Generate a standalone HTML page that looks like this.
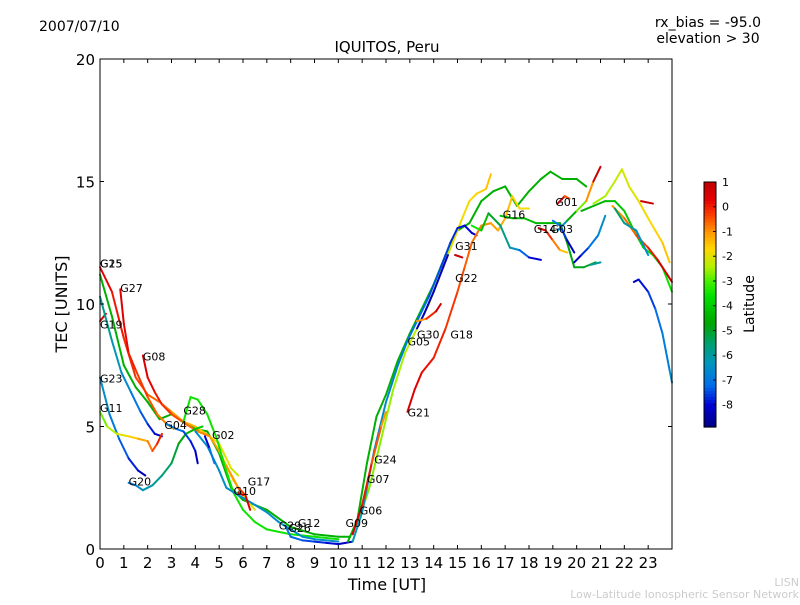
<!DOCTYPE html>
<html><head><meta charset="utf-8"><style>
body{margin:0;background:#fff;font-family:"Liberation Sans","DejaVu Sans",sans-serif}
svg text{font-family:"DejaVu Sans","Liberation Sans",sans-serif}
</style></head><body>
<svg id="chart" width="800" height="600" viewBox="0 0 800 600" xmlns="http://www.w3.org/2000/svg">
<rect width="800" height="600" fill="#fff"/>
<text x="39" y="31" font-size="14">2007/07/10</text>
<text x="708" y="27" font-size="14" text-anchor="middle">rx_bias = -95.0</text>
<text x="708" y="43" font-size="14" text-anchor="middle">elevation &gt; 30</text>
<text x="387" y="52" font-size="15" text-anchor="middle">IQUITOS, Peru</text>
<g id="tracks"></g>
<g id="labels"></g>
<rect x="100" y="59" width="572" height="490" fill="none" stroke="#000" stroke-width="1"/>
<g id="axes"></g>
<text x="387" y="590" font-size="16" text-anchor="middle">Time [UT]</text>
<text x="67" y="304" font-size="16" text-anchor="middle" transform="rotate(-90 67 304)">TEC [UNITS]</text>
<g id="cbar"></g>
<text x="754" y="304" font-size="14" text-anchor="middle" transform="rotate(-90 754 304)">Latitude</text>
<text x="799" y="586" font-size="11" fill="#ccc" text-anchor="end">LISN</text>
<text x="799" y="598" font-size="11" fill="#ccc" text-anchor="end">Low-Latitude Ionospheric Sensor Network</text>
</svg>
<script>
const xTicks=[0,1,2,3,4,5,6,7,8,9,10,11,12,13,14,15,16,17,18,19,20,21,22,23];
const yTicks=[0,5,10,15,20];
const cbTicks=[1,0,-1,-2,-3,-4,-5,-6,-7,-8];
const latMin=-8.9, latMax=1.0;
// each track: [latStart, latEnd], points [hour, tec]
const trackLat=[
[-4.5,-4.5],[0.3,-2.2],[0.5,-1],[0.5,-2],[0.5,0.5],[-6.5,-8.2],[-5.8,-8.2],[-2.8,0],[-7,-4],[-3.5,-3.5],
[-6.8,-8.2],[-6.5,-6.5],[-8,-7],[-1,0.5],[0.5,0.5],[-7,-8.2],
[-4.5,-4.5],[-2.8,-1.5],[-6.2,-8.2],[-8.2,-8.2],[-1,0.8],[0.6,-1],[0.5,-1.8],[-3.5,-8],[-4,-5],[0.6,-1.5],[-7,-8.2],[-6.3,0.8],[-8.2,-6.5],[-2.5,-1.5],[-4.5,-3.5],[-1,0.8],[-5.5,-6.5],[-8.2,-6.5],[0.8,0.8],[0.8,-0.5],[0.8,-1],[-6,-6.5]
];
const trackPts=[
[[0,11.2],[0.5,9.5],[1,7.5],[1.5,6.6],[2,6.0],[2.5,5.3],[3,5.5],[3.5,5.2],[4,4.9],[4.5,4.8],[5,3.9],[5.5,2.5],[6,2.0],[7,1.6],[8,0.9],[9,0.6],[10,0.5],[10.5,0.5]],
[[0,11.5],[0.5,10.5],[1,8.6],[1.5,7.0],[2,6.3],[2.5,6.0],[3,5.6],[3.5,5.2],[4,5.0],[4.6,4.6],[5,4.3],[5.5,3.3],[5.8,3.0]],
[[0.85,10.6],[1,9.2],[1.2,8.0],[1.5,7.3],[2,6.2],[2.4,5.5],[2.8,5.1],[3.1,4.9]],
[[1.8,7.9],[2,7.0],[2.3,6.4],[2.6,5.9],[3,5.5],[3.6,5.1],[4.1,4.8],[4.6,4.6],[5,4.0],[5.3,3.4],[5.6,2.8],[6,2.2],[6.5,1.6]],
[[0,9.3],[0.25,9.6]],
[[0,7.0],[0.4,5.5],[0.8,4.5],[1.2,3.7],[1.6,3.2],[1.9,3.0]],
[[0,10.3],[0.5,8.5],[0.9,7.2],[1.3,6.4],[1.7,5.6],[2.0,5.1],[2.3,4.7],[2.6,4.6]],
[[0,5.6],[0.3,5.0],[0.7,4.7],[1.2,4.6],[1.6,4.5],[2,4.4],[2.2,4.0],[2.4,4.3],[2.6,4.7]],
[[1.2,2.7],[1.5,2.6],[1.8,2.4],[2.2,2.6],[2.6,3.0],[3,3.5],[3.3,4.3],[3.6,4.7],[4,4.9],[4.3,5.0]],
[[3.5,5.2],[3.8,6.2],[4.1,6.1],[4.5,5.5],[4.9,4.5],[5.2,3.5],[5.6,2.3],[6,1.6],[6.5,1.1],[7,0.8],[8,0.6],[9,0.5],[10,0.4]],
[[2.8,5.1],[3.2,4.9],[3.5,4.8],[3.8,4.4],[4.0,4.0],[4.1,3.5]],
[[4.0,4.8],[4.5,4.2],[5,3.2],[5.3,2.5],[5.8,2.2],[6.5,1.8],[7.0,1.5],[7.5,1.1],[8,0.8],[8.5,0.5],[9,0.4],[9.5,0.35],[10,0.3]],
[[4.4,4.6],[4.6,4.1],[4.8,3.5]],
[[5.3,3.4],[5.8,2.5],[6.1,2.2],[6.3,1.6]],
[[5.8,2.3],[6.0,2.2]],
[[7.8,0.9],[8,0.5],[8.5,0.35],[9,0.3],[9.5,0.25],[10,0.2],[10.6,0.3]],
[[10.4,0.3],[10.8,1.2],[11.2,3.5],[11.6,5.4],[12,6.3],[12.5,7.7],[13,8.8],[13.5,9.8],[14,10.8],[14.5,12.0],[15,13.0],[15.5,13.3],[16,14.2],[16.5,14.6],[17,14.8],[17.5,14.0],[18,14.6],[18.5,15.1],[18.9,15.4],[19.4,15.1],[20,15.1],[20.4,14.8]],
[[10.8,1.0],[11.3,2.5],[11.8,4.5],[12.3,6.5],[12.8,8.0],[13.3,9.0],[13.8,10.0],[14.3,11.3],[14.8,12.5],[15.2,13.5],[15.5,14.2],[15.8,14.5],[16.2,14.7],[16.4,15.3]],
[[10.6,0.3],[11,1.5],[11.5,4.0],[12,6.0],[12.5,7.5],[12.9,8.5],[13.3,9.3],[13.8,10.3],[14.3,11.5],[14.7,12.5],[15,13.1],[15.3,13.2],[15.6,12.9],[15.8,12.8]],
[[13.3,9.0],[13.6,9.6],[14,10.5],[14.4,11.5],[14.6,12.0]],
[[13.3,9.3],[13.7,9.4],[14.1,9.7],[14.3,10.0]],
[[10.6,0.6],[11,1.8],[11.4,3.5],[11.8,5.0],[12.0,5.6]],
[[12.9,5.6],[13.2,6.5],[13.5,7.2],[14,7.8],[14.5,9.0],[15,10.5],[15.3,11.5],[15.6,12.5],[16,13.2],[16.4,13.3],[16.7,13.0],[17,13.5],[17.3,14.4],[17.6,13.9],[18,13.9]],
[[15.6,13.2],[16,13.0],[16.3,13.7],[16.8,13.2],[17.2,12.3],[17.6,12.2],[18,11.9],[18.5,11.8]],
[[16.8,13.6],[17.3,13.5],[17.8,13.5],[18.3,13.3],[18.8,13.3],[19.3,13.3],[19.6,12.5],[19.9,11.5],[20.3,11.5],[20.8,11.7]],
[[18.4,13.1],[18.7,13.0],[19,12.6],[19.3,12.2],[19.6,12.1]],
[[19,13.4],[19.3,13.2],[19.6,12.6],[19.9,12.1]],
[[19.2,13.0],[19.6,13.4],[20,13.8],[20.4,14.2],[20.7,15.0],[21,15.6]],
[[19.9,11.7],[20.2,12.0],[20.5,12.3],[20.9,12.8],[21.2,13.6]],
[[20.7,14.1],[21.2,14.4],[21.6,15.0],[21.9,15.5],[22.2,14.8],[22.6,14.2],[23,13.5],[23.3,13.0],[23.6,12.5],[23.9,11.7]],
[[20.2,13.8],[20.7,14.0],[21.2,14.2],[21.6,14.2],[22,13.8],[22.4,13.0],[22.8,12.3],[23.2,12.0],[23.6,11.5],[24,10.5]],
[[21.5,14.0],[22,13.5],[22.5,12.8],[23,12.3],[23.4,11.8],[23.8,11.2],[24,10.9]],
[[21.6,13.9],[22,13.3],[22.5,13.0],[23,12.0]],
[[22.4,10.9],[22.6,11.0],[23,10.5],[23.3,9.8],[23.6,8.8],[23.9,7.3],[24,6.8]],
[[22.7,14.2],[23.2,14.1]],
[[19.2,14.1],[19.5,14.4],[19.7,14.3]],
[[14.9,12.0],[15.2,11.9]],
[[20.6,11.6],[21,11.7]]
];
const labelNames=["G25","G15","G27","G19","G08","G23","G11","G04","G28","G02","G20","G17","G10","G29","G26","G12","G09","G06","G07","G24","G21","G05","G30","G18","G31","G22","G16","G14","G03","G01"];
const labelHours=[0,0,0.85,0,1.8,0,0,2.7,3.5,4.7,1.2,6.2,5.6,7.5,7.9,8.3,10.3,10.9,11.2,11.5,12.9,12.9,13.3,14.7,14.9,14.9,16.9,18.2,18.9,19.1];
const labelTecs=[11.5,11.5,10.5,9.0,7.7,6.8,5.6,4.9,5.5,4.5,2.6,2.6,2.2,0.8,0.7,0.9,0.9,1.4,2.7,3.5,5.4,8.3,8.6,8.6,12.2,10.9,13.5,12.9,12.9,14.0];

const X0=100,X1=672,Y0=549,Y1=59;
const xs=h=>X0+h/24*(X1-X0);
const ys=v=>Y0-v/20*(Y0-Y1);
const NS="http://www.w3.org/2000/svg";
function mk(t,a){const e=document.createElementNS(NS,t);for(const k in a)e.setAttribute(k,a[k]);return e;}
// colormap stops in latitude units -> rgb
const cmapStops=[[-8.9,[0,0,130]],[-8.0,[0,0,210]],[-7.2,[0,110,235]],[-6.3,[0,150,190]],[-5.5,[0,160,110]],[-4.7,[0,165,0]],[-3.6,[0,225,0]],[-3.0,[70,240,0]],[-2.4,[180,240,0]],[-1.7,[255,215,0]],[-1.0,[255,150,0]],[-0.3,[250,60,0]],[0.3,[230,0,0]],[1.0,[190,0,0]]];
function cmap(l){
 if(l<=cmapStops[0][0])return `rgb(${cmapStops[0][1].join(',')})`;
 for(let i=0;i<cmapStops.length-1;i++){const a=cmapStops[i],b=cmapStops[i+1];
  if(l<=b[0]){const t=(l-a[0])/(b[0]-a[0]);return `rgb(${a[1].map((v,k)=>Math.round(v+(b[1][k]-v)*t)).join(',')})`;}}
 return `rgb(${cmapStops[cmapStops.length-1][1].join(',')})`;
}
const tg=document.getElementById('tracks');
trackPts.forEach((pts,i)=>{
 const [la,lb]=trackLat[i];const n=pts.length;
 for(let j=0;j<n-1;j++){
  const t=n>2?j/(n-2):0;
  const e=mk('line',{x1:xs(pts[j][0]),y1:ys(pts[j][1]),x2:xs(pts[j+1][0]),y2:ys(pts[j+1][1]),stroke:cmap(la+(lb-la)*t),'stroke-width':2,'stroke-linecap':'round'});
  
  
  tg.appendChild(e);
 }
});
const lg=document.getElementById('labels');
labelNames.forEach((nm,i)=>{
 const e=mk('text',{x:xs(labelHours[i]),y:ys(labelTecs[i]),'font-size':11});
 e.textContent=nm;
 
 
 lg.appendChild(e);
});
const ag=document.getElementById('axes');
xTicks.forEach(t=>{
 const x=xs(t);
 const a=mk('line',{x1:x,y1:Y0,x2:x,y2:Y0-4,stroke:'#000'});ag.appendChild(a);
 const b=mk('line',{x1:x,y1:Y1,x2:x,y2:Y1+4,stroke:'#000'});ag.appendChild(b);
 const l=mk('text',{x:x,y:568,'font-size':15,'text-anchor':'middle'});l.textContent=t;ag.appendChild(l);
});
yTicks.forEach(t=>{
 const y=ys(t);
 const a=mk('line',{x1:X0,y1:y,x2:X0+4,y2:y,stroke:'#000'});ag.appendChild(a);
 const b=mk('line',{x1:X1,y1:y,x2:X1-4,y2:y,stroke:'#000'});ag.appendChild(b);
 const l=mk('text',{x:95,y:y+6,'font-size':15,'text-anchor':'end'});l.textContent=t;ag.appendChild(l);
});
const cg=document.getElementById('cbar');
const CB0=427,CB1=182,CX=704,CW=12;
const cy=l=>CB0-(l-latMin)/(latMax-latMin)*(CB0-CB1);
for(let i=0;i<80;i++){
 const y=CB0-(i+1)*(CB0-CB1)/80;
 const r=mk('rect',{x:CX,y:y,width:CW,height:(CB0-CB1)/80+0.6,fill:cmap(latMin+(i+0.5)/80*(latMax-latMin))});
 
 
 cg.appendChild(r);
}
const fr=mk('rect',{x:CX,y:CB1,width:CW,height:CB0-CB1,fill:'none',stroke:'#000'});


cg.appendChild(fr);
cbTicks.forEach(t=>{
 const y=cy(t);
 const a=mk('line',{x1:CX+CW-3,y1:y,x2:CX+CW,y2:y,stroke:'#000'});cg.appendChild(a);
 const l=mk('text',{x:722,y:y+4,'font-size':11});l.textContent=t;cg.appendChild(l);
});
</script>
</body></html>
